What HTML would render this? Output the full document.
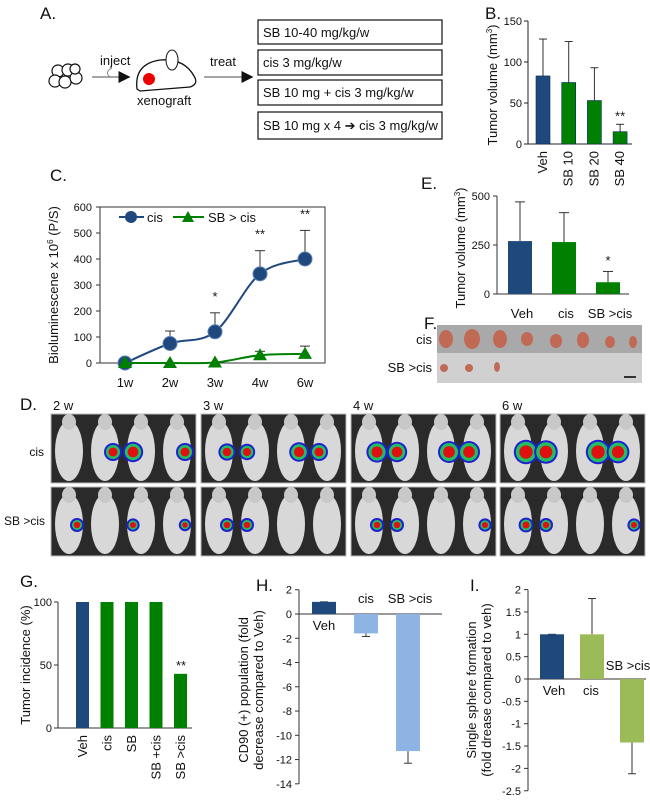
<!DOCTYPE html>
<html><head><meta charset="utf-8"><style>
body{margin:0;background:#fff}
svg{display:block;font-family:"Liberation Sans",sans-serif}
text{fill:#111}
.t{font-size:11px}.l{font-size:13px}.p{font-size:17px}
</style></head><body>
<svg id="s" width="650" height="802" viewBox="0 0 650 802" xmlns="http://www.w3.org/2000/svg">
<defs><marker id="ah" markerWidth="8" markerHeight="8" refX="7" refY="4" orient="auto"><path d="M0,0L8,4L0,8z" fill="#111"/></marker></defs>
<!-- Panel A -->
<g>
<text class="p" x="40" y="19">A.</text>
<g fill="#fff" stroke="#111" stroke-width="1.2">
<circle cx="58" cy="71" r="6"/><circle cx="68" cy="70" r="6"/><circle cx="55" cy="81" r="6"/><circle cx="65" cy="82" r="6"/><circle cx="76" cy="78" r="6"/><circle cx="75" cy="69" r="5"/></g>
<line x1="92" y1="77" x2="129" y2="77" stroke="#888" stroke-width="1.5" marker-end="url(#ah)"/>
<path d="M112,68 q-8,4 -2,9" fill="none" stroke="#888"/>
<text class="l" x="100" y="65">inject</text>
<path d="M137,89 Q134,64 160,60 Q184,58 194,76 Q199,84 190,87 L140,91 Z" fill="#fff" stroke="#111" stroke-width="1.3"/>
<ellipse cx="172" cy="60" rx="6" ry="10" fill="#fff" stroke="#111"/>
<circle cx="149" cy="79" r="6" fill="#e00"/>
<text class="l" x="137" y="105">xenograft</text>
<text class="l" x="210" y="66">treat</text>
<line x1="204" y1="77" x2="252" y2="77" stroke="#888" stroke-width="1.5" marker-end="url(#ah)"/>
<g fill="#fff" stroke="#111" stroke-width="1.2">
<rect x="258" y="20" width="184" height="24"/><rect x="258" y="50" width="184" height="25"/><rect x="258" y="80" width="184" height="25"/><rect x="258" y="112" width="184" height="27"/></g>
<text class="l" x="263" y="37">SB 10-40 mg/kg/w</text>
<text class="l" x="263" y="67">cis 3 mg/kg/w</text>
<text class="l" x="263" y="97">SB 10 mg + cis 3 mg/kg/w</text>
<text class="l" x="263" y="130">SB 10 mg x 4 ➔ cis 3 mg/kg/w</text>
</g>
<g id="B"><text class="p" x="485" y="19">B.</text></g>
<g id="C"><text class="p" x="50" y="181">C.</text></g>
<g id="E"><text class="p" x="421" y="189">E.</text></g>
<g>
<text class="p" x="424" y="329">F.</text>
<rect x="437" y="325" width="205" height="28" fill="#a9a9a9"/>
<rect x="437" y="353" width="205" height="30" fill="#d0d0d0"/>
<g fill="#c06a55"><ellipse cx="446" cy="339" rx="7" ry="9"/><ellipse cx="472" cy="339" rx="8" ry="10"/><ellipse cx="500" cy="339" rx="7" ry="9"/><ellipse cx="527" cy="339" rx="6" ry="7"/><ellipse cx="556" cy="341" rx="6" ry="7"/><ellipse cx="583" cy="340" rx="6" ry="8"/><ellipse cx="610" cy="342" rx="5" ry="6"/><ellipse cx="633" cy="342" rx="4" ry="6"/>
<ellipse cx="444" cy="368" rx="4" ry="4"/><ellipse cx="469" cy="368" rx="4" ry="4"/><ellipse cx="497" cy="367" rx="3" ry="5"/></g>
<line x1="624" y1="377" x2="636" y2="377" stroke="#333" stroke-width="2"/>
<text class="l" x="432" y="344" text-anchor="end">cis</text>
<text class="l" x="432" y="372" text-anchor="end">SB &gt;cis</text>
</g>
<g id="D">
<text class="p" x="20" y="410">D.</text>
<text x="44" y="456" text-anchor="end" font-size="12">cis</text>
<text x="45" y="525" text-anchor="end" font-size="12">SB &gt;cis</text>
</g>
<g id="G"><text class="p" x="20" y="587">G.</text></g>
<g id="H"><text class="p" x="256" y="591">H.</text></g>
<g id="I"><text class="p" x="470" y="591">I.</text></g>
</svg>
<script>
const NS="http://www.w3.org/2000/svg";
function mk(p,tag,a,txt){const e=document.createElementNS(NS,tag);for(const k in a)e.setAttribute(k,a[k]);if(txt!==undefined)e.textContent=txt;p.appendChild(e);return e;}
const NAVY="#1f497d",GREEN="#008000";
// Data
const bCats=["Veh","SB 10","SB 20","SB 40"];
const bVals=[83,75,53,15];
const bErr=[128,125,93,24];
const bTicks=[0,50,100,150];
const cCats=["1w","2w","3w","4w","6w"];
const cCis=[0,75,120,343,400];
const cCisErr=[0,123,193,432,510];
const cSB=[0,0,2,30,35];
const cSBErr=[0,0,0,45,65];
const cTicks=[0,100,200,300,400,500,600];
const cStars=["","","*","**","**"];
const eCats=["Veh","cis","SB >cis"];
const eVals=[270,265,60];
const eErr=[470,415,115];
const eTicks=[0,250,500];
const gCats=["Veh","cis","SB","SB +cis","SB >cis"];
const gVals=[100,100,100,100,43];
const gTicks=[0,50,100];
const hCats=["Veh","cis","SB >cis"];
const hVals=[1,-1.6,-11.3];
const hErr=[1,-1.85,-12.3];
const hTicks=[2,0,-2,-4,-6,-8,-10,-12,-14];
const iCats=["Veh","cis","SB >cis"];
const iVals=[1,1,-1.42];
const iErr=[1,1.8,-2.12];
const iTicks=[2,1.5,1,0.5,0,-0.5,-1,-1.5,-2,-2.5];

function yLabel(g,x,y,lines){lines.forEach((l,i)=>{const t=mk(g,"text",{class:"l",x:0,y:0,"text-anchor":"middle",transform:`translate(${x+i*15},${y}) rotate(-90)`});t.innerHTML=l;});}

// B
(function(){const g=document.getElementById("B");const x0=528,y=v=>144-v*123/150;
mk(g,"line",{x1:x0,y1:y(150),x2:x0,y2:144,stroke:"#222"});mk(g,"line",{x1:x0,y1:144,x2:632,y2:144,stroke:"#222"});
bTicks.forEach(v=>{mk(g,"line",{x1:x0-4,y1:y(v),x2:x0,y2:y(v),stroke:"#222"});mk(g,"text",{class:"t",x:x0-6,y:y(v)+4,"text-anchor":"end"},v);});
const xs=i=>536+i*25.7;
bVals.forEach((v,i)=>{const cx=xs(i)+7;mk(g,"line",{x1:cx,y1:y(bErr[i]),x2:cx,y2:y(v),stroke:"#333"});mk(g,"line",{x1:cx-4,y1:y(bErr[i]),x2:cx+4,y2:y(bErr[i]),stroke:"#333"});
const r=mk(g,"rect",{x:xs(i),y:y(v),width:14,height:144-y(v),fill:i?GREEN:NAVY,stroke:"#0b2b55","stroke-width":0.6});
mk(g,"text",{class:"l",x:0,y:0,"text-anchor":"end",transform:`translate(${cx+4},${151}) rotate(-90)`},bCats[i]);});
mk(g,"text",{class:"l",x:xs(3)+7,y:y(bErr[3])-4,"text-anchor":"middle"},"**");
yLabel(g,497,85,["Tumor volume (mm<tspan font-size='8' dy='-5'>3</tspan><tspan dy='5'>)</tspan>"]);})();

// C
(function(){const g=document.getElementById("C");const L=100,R=325,y=v=>363-v*156/600,x=i=>125+i*45;
mk(g,"rect",{x:L,y:y(600),width:R-L,height:156,fill:"none",stroke:"#333"});
cTicks.forEach(v=>{mk(g,"line",{x1:L-4,y1:y(v),x2:L,y2:y(v),stroke:"#333"});mk(g,"text",{class:"t",x:L-8,y:y(v)+4,"text-anchor":"end"},v);});
cCats.forEach((c,i)=>mk(g,"text",{class:"l",x:x(i),y:387,"text-anchor":"middle"},c));
function curve(vals){let d=`M${x(0)},${y(vals[0])}`;for(let i=0;i<vals.length-1;i++){const p0=[x(Math.max(i-1,0)),y(vals[Math.max(i-1,0)])],p1=[x(i),y(vals[i])],p2=[x(i+1),y(vals[i+1])],p3=[x(Math.min(i+2,vals.length-1)),y(vals[Math.min(i+2,vals.length-1)])];
d+=` C${p1[0]+(p2[0]-p0[0])/6},${p1[1]+(p2[1]-p0[1])/6} ${p2[0]-(p3[0]-p1[0])/6},${p2[1]-(p3[1]-p1[1])/6} ${p2[0]},${p2[1]}`;}return d;}
[[cCis,cCisErr,NAVY],[cSB,cSBErr,GREEN]].forEach(([vals,err,col],s)=>{
vals.forEach((v,i)=>{if(err[i]>v){mk(g,"line",{x1:x(i),y1:y(err[i]),x2:x(i),y2:y(v),stroke:"#333"});mk(g,"line",{x1:x(i)-5,y1:y(err[i]),x2:x(i)+5,y2:y(err[i]),stroke:"#333"});}});
const p=mk(g,"path",{d:curve(vals),fill:"none",stroke:col,"stroke-width":2});
vals.forEach((v,i)=>{const m=s?mk(g,"path",{d:`M${x(i)-7},${y(v)+5}L${x(i)},${y(v)-7}L${x(i)+7},${y(v)+5}Z`,fill:col}):mk(g,"circle",{cx:x(i),cy:y(v),r:7,fill:col,stroke:"#5a7fb5"});});});
cStars.forEach((s,i)=>{if(s)mk(g,"text",{class:"l",x:x(i),y:y(cCisErr[i])-12,"text-anchor":"middle","font-size":"15"},s);});
mk(g,"line",{x1:119,y1:217,x2:144,y2:217,stroke:NAVY,"stroke-width":2});mk(g,"circle",{cx:131,cy:217,r:6,fill:NAVY});mk(g,"text",{class:"l",x:147,y:222},"cis");
mk(g,"line",{x1:173,y1:217,x2:204,y2:217,stroke:GREEN,"stroke-width":2});mk(g,"path",{d:"M182,222L188,211L194,222Z",fill:GREEN});mk(g,"text",{class:"l",x:208,y:222},"SB > cis");
yLabel(g,58,285,["Bioluminescene x 10<tspan font-size='8' dy='-5'>6</tspan><tspan dy='5'> (P/S)</tspan>"]);})();

// E
(function(){const g=document.getElementById("E");const x0=497,y=v=>294-v*98/500;
mk(g,"line",{x1:x0,y1:y(500),x2:x0,y2:294,stroke:"#333"});mk(g,"line",{x1:x0,y1:294,x2:629,y2:294,stroke:"#333"});
eTicks.forEach(v=>{mk(g,"line",{x1:x0-4,y1:y(v),x2:x0,y2:y(v),stroke:"#333"});mk(g,"text",{class:"t",x:x0-7,y:y(v)+4,"text-anchor":"end"},v);});
eVals.forEach((v,i)=>{const bx=508+i*44,cx=bx+12;mk(g,"line",{x1:cx,y1:y(eErr[i]),x2:cx,y2:y(v),stroke:"#333"});mk(g,"line",{x1:cx-5,y1:y(eErr[i]),x2:cx+5,y2:y(eErr[i]),stroke:"#333"});
const r=mk(g,"rect",{x:bx,y:y(v),width:24,height:294-y(v),fill:i?GREEN:NAVY});
mk(g,"text",{class:"l",x:cx+2,y:318,"text-anchor":"middle"},eCats[i]);});
mk(g,"text",{class:"l",x:608,y:265,"text-anchor":"middle"},"*");
yLabel(g,465,248,["Tumor volume (mm<tspan font-size='8' dy='-5'>3</tspan><tspan dy='5'>)</tspan>"]);})();

// D
(function(){const g=document.getElementById("D");const cols=[51,201,351,500],labels=["2 w","3 w","4 w","6 w"];
const sig=[[[2,1],[3,1.3],[4,1]],[[1,0.9],[2,0.8],[3,1.2],[4,1]],[[1,1.4],[2,1.3],[3,1.5],[4,1.5]],[[1,1.8],[2,1.7],[3,1.8],[4,1.6]]];
const sig2=[[[1,0.5],[3,0.4],[4,0.3]],[[1,0.5],[2,0.5]],[[1,0.5],[2,0.5],[4,0.4]],[[1,0.6],[2,0.5],[4,0.4]]];
cols.forEach((cx,c)=>{mk(g,"text",{class:"l",x:cx+2,y:410},labels[c]);
[[414,sig[c]],[487,sig2[c]]].forEach(([ry,ss],r)=>{mk(g,"rect",{x:cx,y:ry,width:145,height:69,fill:"#2a2a2a",stroke:"#bbb"});
for(let m=0;m<4;m++){const mx=cx+18+m*36;mk(g,"ellipse",{cx:mx,cy:ry+37,rx:14,ry:30,fill:"#d8d8d8"});mk(g,"ellipse",{cx:mx,cy:ry+8,rx:7,ry:8,fill:"#c8c8c8"});}
ss.forEach(([m,s],k)=>{const mx=cx+18+(m-1)*36+(k%2?-8:8),my=ry+38;const rad=3+s*4;
mk(g,"circle",{cx:mx,cy:my,r:rad+2,fill:"#2020d0"});mk(g,"circle",{cx:mx,cy:my,r:rad,fill:"#20c060"});mk(g,"circle",{cx:mx,cy:my,r:rad*0.65,fill:"#e01010"});});});});})();

// G
(function(){const g=document.getElementById("G");const x0=58,y=v=>728-v*126/100;
mk(g,"line",{x1:x0,y1:y(100),x2:x0,y2:728,stroke:"#333"});mk(g,"line",{x1:x0,y1:728,x2:192,y2:728,stroke:"#333"});
gTicks.forEach(v=>{mk(g,"line",{x1:x0-4,y1:y(v),x2:x0,y2:y(v),stroke:"#333"});mk(g,"text",{class:"t",x:x0-6,y:y(v)+4,"text-anchor":"end"},v);});
gVals.forEach((v,i)=>{const bx=76+i*24.5;const r=mk(g,"rect",{x:bx,y:y(v),width:13,height:728-y(v),fill:i?GREEN:NAVY});
mk(g,"text",{class:"l",x:0,y:0,"text-anchor":"end",transform:`translate(${bx+11},${735}) rotate(-90)`},gCats[i]);});
mk(g,"text",{class:"l",x:181,y:y(43)-4,"text-anchor":"middle","font-size":"15"},"**");
yLabel(g,30,665,["Tumor incidence (%)"]);})();

// H
(function(){const g=document.getElementById("H");const x0=299,y=v=>614-v*12.13;
mk(g,"line",{x1:x0,y1:y(2),x2:x0,y2:y(-14),stroke:"#333"});mk(g,"line",{x1:x0,y1:y(0),x2:442,y2:y(0),stroke:"#333"});
hTicks.forEach(v=>{mk(g,"line",{x1:x0-4,y1:y(v),x2:x0,y2:y(v),stroke:"#333"});mk(g,"text",{class:"t",x:x0-7,y:y(v)+4,"text-anchor":"end"},v);});
hVals.forEach((v,i)=>{const bx=312+i*42,cx=bx+12;const top=Math.min(y(v),y(0)),h=Math.abs(y(v)-y(0));
mk(g,"line",{x1:cx,y1:y(hErr[i]),x2:cx,y2:y(v),stroke:"#333"});mk(g,"line",{x1:cx-4,y1:y(hErr[i]),x2:cx+4,y2:y(hErr[i]),stroke:"#333"});
const r=mk(g,"rect",{x:bx,y:top,width:24,height:h,fill:i?"#8db4e2":NAVY});});
mk(g,"text",{class:"l",x:324,y:630,"text-anchor":"middle"},hCats[0]);mk(g,"text",{class:"l",x:366,y:603,"text-anchor":"middle"},hCats[1]);mk(g,"text",{class:"l",x:410,y:603,"text-anchor":"middle"},hCats[2]);
yLabel(g,248,690,["CD90 (+) population (fold","decrease compared to Veh)"]);})();

// I
(function(){const g=document.getElementById("I");const x0=528,y=v=>679-v*44.7;
mk(g,"line",{x1:x0,y1:y(2),x2:x0,y2:y(-2.5),stroke:"#333"});mk(g,"line",{x1:x0,y1:y(0),x2:646,y2:y(0),stroke:"#333"});
iTicks.forEach(v=>{mk(g,"line",{x1:x0-4,y1:y(v),x2:x0,y2:y(v),stroke:"#333"});mk(g,"text",{class:"t",x:x0-7,y:y(v)+4,"text-anchor":"end"},v);});
iVals.forEach((v,i)=>{const bx=540+i*40,cx=bx+12;const top=Math.min(y(v),y(0)),h=Math.abs(y(v)-y(0));
mk(g,"line",{x1:cx,y1:y(iErr[i]),x2:cx,y2:y(v),stroke:"#333"});mk(g,"line",{x1:cx-4,y1:y(iErr[i]),x2:cx+4,y2:y(iErr[i]),stroke:"#333"});
const r=mk(g,"rect",{x:bx,y:top,width:24,height:h,fill:i?"#9bbb59":NAVY});});
mk(g,"text",{class:"l",x:554,y:695,"text-anchor":"middle"},iCats[0]);mk(g,"text",{class:"l",x:591,y:695,"text-anchor":"middle"},iCats[1]);mk(g,"text",{class:"l",x:628,y:670,"text-anchor":"middle"},iCats[2]);
yLabel(g,476,690,["Single sphere formation","(fold drease compared to veh)"]);})();
</script>
</body></html>
